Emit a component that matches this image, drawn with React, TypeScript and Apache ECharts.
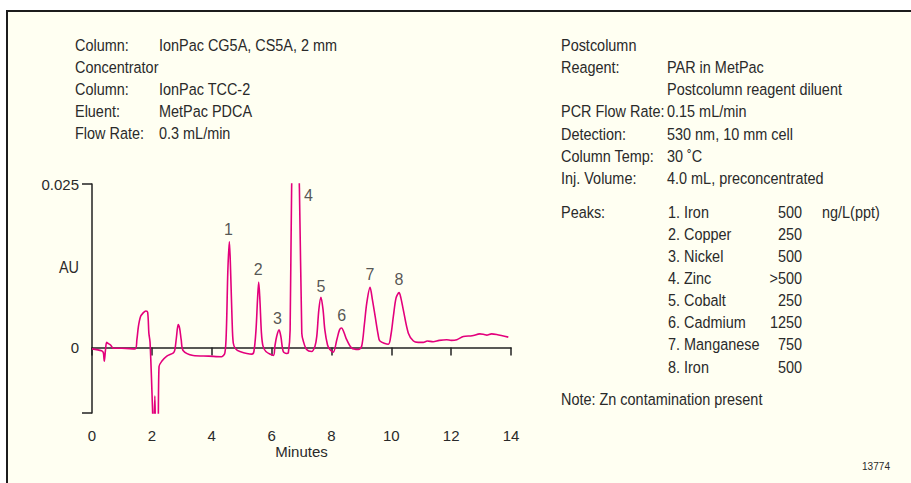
import React, { useEffect, useRef } from "react";
import * as echarts from "echarts";

// Chromatogram trace: retention time (min) and absorbance (AU)
const times = [
  0.0, 0.32, 0.38, 0.41, 0.45, 0.49, 0.55, 0.62, 0.71, 1.0, 1.44, 1.5, 1.55, 1.62, 1.71, 1.8, 1.86, 1.9, 1.94,
  2.02, 2.06, 2.1, 2.14, 2.2, 2.24, 2.33, 2.5, 2.72, 2.77, 2.82, 2.88, 2.93, 2.98, 3.05, 3.38, 3.9, 4.33, 4.44,
  4.49, 4.54, 4.59, 4.63, 4.68, 4.72, 4.8, 4.94, 5.34, 5.41, 5.48, 5.53, 5.57, 5.61, 5.66, 5.71, 5.81, 6.06,
  6.11, 6.17, 6.25, 6.31, 6.39, 6.5, 6.56, 6.62, 6.67, 6.8, 6.93, 7.01, 7.06, 7.17, 7.34, 7.45, 7.51, 7.58,
  7.65, 7.72, 7.78, 7.87, 7.95, 8.06, 8.18, 8.27, 8.34, 8.42, 8.51, 8.68, 8.9, 9.01, 9.1, 9.18, 9.29, 9.37,
  9.46, 9.56, 9.62, 9.9, 9.99, 10.07, 10.16, 10.26, 10.32, 10.4, 10.57, 10.74, 10.9, 11.07, 11.2, 11.4, 11.6,
  11.85, 12.0, 12.19, 12.41, 12.7, 12.96, 13.1, 13.19, 13.35, 13.52, 13.91,
];
const absorbance = [
  -0.0002, -0.0005, -0.0008, -0.0021, -0.0004, 0.0008, 0.0006, 0.0004, -0.0001, -0.0001, -0.0002, 0.0012, 0.0032,
  0.0047, 0.0053, 0.0056, 0.0054, 0.0022, 0.0008, -0.009, -0.015, -0.0074, -0.015, -0.015, -0.0029, -0.0021,
  -0.0013, -0.0008, -0.0003, 0.0015, 0.0035, 0.0029, 0.0012, -0.0005, -0.0012, -0.0013, -0.0014, -0.0008,
  0.0027, 0.0119, 0.0162, 0.0119, 0.0043, 0.0007, -0.0002, -0.0006, -0.001, -0.0006, 0.0027, 0.0073, 0.01,
  0.0073, 0.0023, 0.0003, -0.0006, -0.0012, 0.0002, 0.0017, 0.0027, 0.0017, -0.0006, -0.0009, -0.0008, 0.0027,
  0.0244, 0.045, 0.0244, 0.0022, 0.001, -0.0003, -0.0006, 0.0002, 0.0017, 0.0058, 0.0077, 0.0058, 0.0027,
  0.0004, -0.0003, -0.0007, 0.0012, 0.0027, 0.003, 0.0023, 0.0012, -0.0001, -0.0003, 0.0002, 0.0035, 0.0068,
  0.0092, 0.0073, 0.0048, 0.002, 0.001, 0.0005, 0.002, 0.0048, 0.0076, 0.0084, 0.0076, 0.0058, 0.0022, 0.001,
  0.0008, 0.0008, 0.001, 0.0009, 0.0011, 0.0012, 0.0011, 0.0012, 0.0017, 0.0018, 0.0021, 0.002, 0.0019, 0.0021,
  0.002, 0.0016,
];

// Peak number labels (placed at data coordinates)
const peakLabelNames = ["1", "2", "3", "4", "5", "6", "7", "8"];
const peakLabelTimes = [4.56, 5.55, 6.2, 7.23, 7.65, 8.34, 9.29, 10.26];
const peakLabelLevels = [0.0181, 0.012, 0.0045, 0.0233, 0.0094, 0.0049, 0.0111, 0.0104];

// Axis ticks
const xTicks = [0, 2, 4, 6, 8, 10, 12, 14];
const yTickValues = [-0.01, 0.025];
const yLabelValues = [0, 0.025];

// Conditions text
const leftLabels = ["Column:", "Concentrator", "Column:", "Eluent:", "Flow Rate:"];
const leftValues = ["IonPac CG5A, CS5A, 2 mm", "", "IonPac TCC-2", "MetPac PDCA", "0.3 mL/min"];
const rightLabels = ["Postcolumn", "Reagent:", "", "PCR Flow Rate:", "Detection:", "Column Temp:", "Inj. Volume:"];
const rightValues = [
  "",
  "PAR in MetPac",
  "Postcolumn reagent diluent",
  "0.15 mL/min",
  "530 nm, 10 mm cell",
  "30 ˚C",
  "4.0 mL, preconcentrated",
];
const peakNames = ["1. Iron", "2. Copper", "3. Nickel", "4. Zinc", "5. Cobalt", "6. Cadmium", "7. Manganese", "8. Iron"];
const peakAmounts = ["500", "250", "500", ">500", "250", "1250", "750", "500"];
const amountUnit = "ng/L(ppt)";
const noteText = "Note: Zn contamination present";
const figureId = "13774";

const FONT = "'Liberation Sans', Arial, Helvetica, sans-serif";
const TEXT = "#2a2a2a";
const AXIS = "#222222";
const TRACE = "#E3007C";
const FS = 16.5; // graphic text size, horizontally condensed
const SX = 0.875;
const AFS = 15; // axis text size

export default function App() {
  const ref = useRef<HTMLDivElement>(null);

  useEffect(() => {
    if (!ref.current) return;
    const chart = echarts.init(ref.current, null, { renderer: "svg" });

    const txt = (x: number, y: number, text: string, align: string = "left", size: number = FS) => ({
      type: "text",
      x,
      y,
      scaleX: SX,
      z: 10,
      style: {
        text,
        fill: TEXT,
        font: `${size}px ${FONT}`,
        textAlign: align,
        textVerticalAlign: "middle",
      },
    });

    const graphics: any[] = [
      {
        type: "rect",
        z: -10,
        shape: { x: 7, y: 11, width: 930, height: 500 },
        style: { fill: "#FFFFF2", stroke: "#1c1c1c", lineWidth: 2 },
      },
    ];
    leftLabels.forEach((l, i) => {
      const y = 45 + i * 22;
      if (l) graphics.push(txt(75, y, l));
      if (leftValues[i]) graphics.push(txt(159, y, leftValues[i]));
    });
    const rightYs = [45, 67, 89, 111, 134, 156, 178];
    rightLabels.forEach((l, i) => {
      const y = rightYs[i];
      if (l) graphics.push(txt(561, y, l));
      if (rightValues[i]) graphics.push(txt(667, y, rightValues[i]));
    });
    graphics.push(txt(561, 212, "Peaks:"));
    peakNames.forEach((n, i) => {
      const y = 212 + i * 22.1;
      graphics.push(txt(668, y, n));
      graphics.push(txt(802, y, peakAmounts[i], "right"));
    });
    graphics.push(txt(822, 212, amountUnit));
    graphics.push(txt(561, 399, noteText));
    graphics.push(txt(890, 466, figureId, "right", 11.5));
    graphics.push(txt(69, 267, "AU", "center"));

    const option: any = {
      animation: false,
      backgroundColor: "#ffffff",
      grid: { left: 92, right: 400, top: 184, bottom: 70, containLabel: false },
      xAxis: {
        type: "value",
        min: 0,
        max: 14,
        interval: 2,
        name: "Minutes",
        nameLocation: "middle",
        nameGap: 31,
        nameTextStyle: { color: TEXT, fontSize: AFS, fontFamily: FONT },
        axisLine: { show: true, lineStyle: { color: AXIS, width: 1.5 } },
        axisTick: { show: true, length: 8, lineStyle: { color: AXIS, width: 1.5 } },
        axisLabel: {
          color: TEXT,
          fontSize: AFS,
          fontFamily: FONT,
          margin: 15,
          formatter: (v: number) => (xTicks.includes(v) ? String(v) : ""),
        },
        splitLine: { show: false },
      },
      yAxis: {
        type: "value",
        min: -0.01,
        max: 0.025,
        axisLine: { show: true, lineStyle: { color: AXIS, width: 1.5 } },
        axisTick: { show: true, length: 10, customValues: yTickValues, lineStyle: { color: AXIS, width: 1.5 } },
        axisLabel: {
          color: TEXT,
          fontSize: AFS,
          fontFamily: FONT,
          margin: 13,
          customValues: yLabelValues,
          formatter: (v: number) => String(v),
        },
        splitLine: { show: false },
      },
      graphic: graphics,
      series: [
        {
          type: "line",
          data: times.map((t, i) => [t, absorbance[i]]),
          showSymbol: false,
          symbol: "none",
          smooth: 0.3,
          clip: true,
          lineStyle: { color: TRACE, width: 1.6 },
          z: 3,
        },
        {
          type: "scatter",
          symbolSize: 0,
          data: peakLabelNames.map((n, i) => ({ name: n, value: [peakLabelTimes[i], peakLabelLevels[i]] })),
          label: {
            show: true,
            position: "inside",
            formatter: (p: any) => p.name,
            color: TEXT,
            fontSize: 16,
            fontFamily: FONT,
          },
          silent: true,
          z: 4,
        },
      ],
    };
    chart.setOption(option);
    return () => chart.dispose();
  }, []);

  return <div ref={ref} style={{ position: "fixed", left: 0, top: 0, width: 911, height: 483 }} />;
}
